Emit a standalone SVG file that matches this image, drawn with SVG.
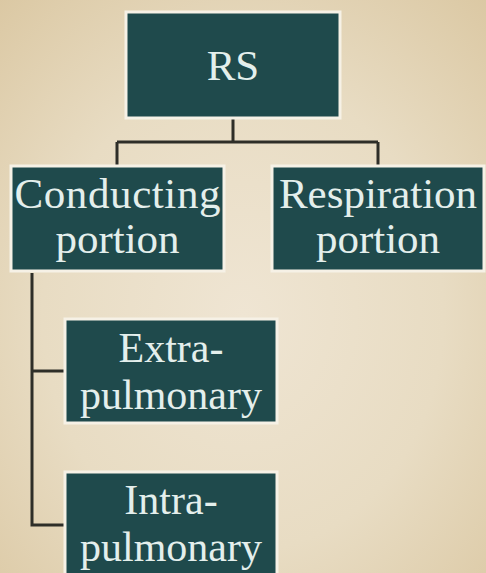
<svg xmlns="http://www.w3.org/2000/svg" width="486" height="573" viewBox="0 0 486 573">
<defs>
<radialGradient id="bg" cx="0.5" cy="0.55" r="0.75">
<stop offset="0" stop-color="#efe5d3"/>
<stop offset="0.55" stop-color="#e8dcc3"/>
<stop offset="1" stop-color="#dbc8a3"/>
</radialGradient>
<style>
.box{fill:#1f4a4c;stroke:#f6f1e6;stroke-width:3}
.t{font-family:"Liberation Serif","Times New Roman",serif;font-size:43px;fill:#e4efec;text-anchor:middle}
.s{font-size:42px}
.c{fill:none;stroke:#2e2e28;stroke-width:3}
</style>
</defs>
<rect width="486" height="573" fill="url(#bg)"/>
<g id="connectors">
<path class="c" d="M233 119V142M117 142H378M117 142V165M378 142V165"/>
<path class="c" d="M32 273V525H64M32 371H64"/>
</g>
<g id="rs">
<rect class="box" x="126" y="12" width="214" height="106"/>
<text class="t" x="233" y="80">RS</text>
</g>
<g id="conducting">
<rect class="box" x="11" y="166" width="213" height="105"/>
<text class="t" x="117.5" y="208" textLength="206">Conducting</text>
<text class="t" x="117.5" y="253">portion</text>
</g>
<g id="respiration">
<rect class="box" x="272" y="166" width="212" height="105"/>
<text class="t" x="378" y="208">Respiration</text>
<text class="t" x="378" y="253">portion</text>
</g>
<g id="extra">
<rect class="box" x="65" y="319" width="212" height="104"/>
<text class="t s" x="171" y="362">Extra-</text>
<text class="t s" x="171" y="409">pulmonary</text>
</g>
<g id="intra">
<rect class="box" x="65" y="472" width="212" height="110"/>
<text class="t s" x="171" y="514">Intra-</text>
<text class="t s" x="171" y="561">pulmonary</text>
</g>
</svg>
